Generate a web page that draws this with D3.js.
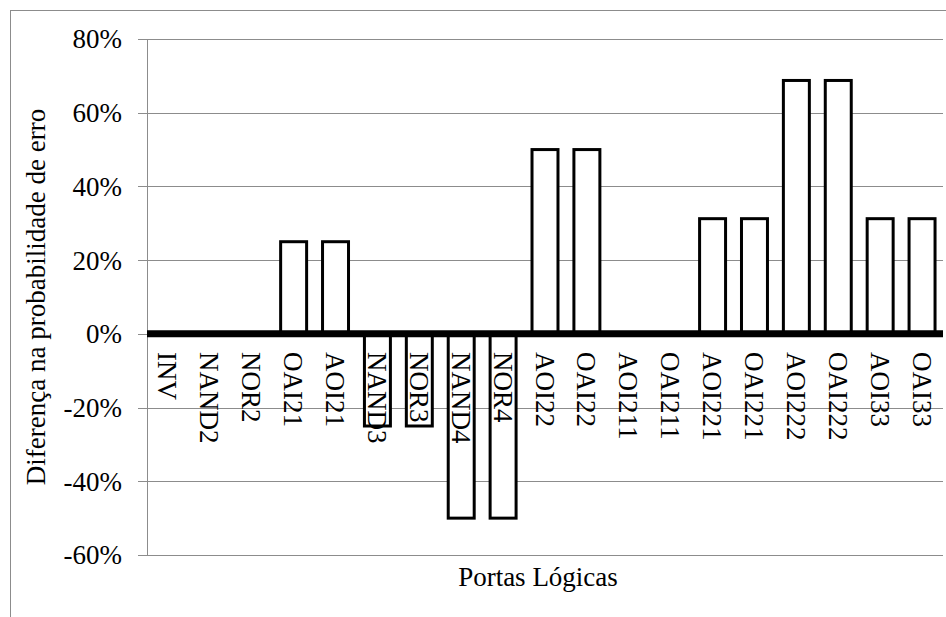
<!DOCTYPE html>
<html><head><meta charset="utf-8">
<script src="https://cdn.jsdelivr.net/npm/d3@7"></script>
<style>body{margin:0;background:#fff}svg{display:block}</style>
</head><body>
<svg id="c" width="946" height="617"></svg>
<script>
const categories = ["INV","NAND2","NOR2","OAI21","AOI21","NAND3","NOR3","NAND4","NOR4","AOI22","OAI22","AOI211","OAI211","AOI221","OAI221","AOI222","OAI222","AOI33","OAI33"];
const values = [0,0,0,0.25,0.25,-0.25,-0.25,-0.5,-0.5,0.5,0.5,0,0,0.3125,0.3125,0.6875,0.6875,0.3125,0.3125];
const yTicks = [-0.6,-0.4,-0.2,0,0.2,0.4,0.6,0.8];
const yTitle = "Diferença na probabilidade de erro";
const xTitle = "Portas Lógicas";

const svg = d3.select("#c");
const font = "Liberation Serif, Times New Roman, serif";
const fs = 27;
const L = 147, R = 943, T = 39, B = 555;
const x = d3.scaleBand().domain(categories).range([L, R]).paddingInner(0.38).paddingOuter(0.19);
const y = d3.scaleLinear().domain([-0.6, 0.8]).range([B, T]);
const pct = d => (Math.round(d * 100)) + "%";

// outer frame
svg.append("rect").attr("x",10.5).attr("y",10.5).attr("width",960).attr("height",640)
  .attr("fill","none").attr("stroke","#8c8c8c").attr("stroke-width",1);

// gridlines
svg.append("g").selectAll("line").data(yTicks).join("line")
  .attr("x1",L-9).attr("x2",R).attr("y1",d=>Math.round(y(d))+0.5).attr("y2",d=>Math.round(y(d))+0.5)
  .attr("stroke","#8c8c8c").attr("stroke-width",1);
// y axis line
svg.append("line").attr("x1",L+0.5).attr("x2",L+0.5).attr("y1",T).attr("y2",B)
  .attr("stroke","#8c8c8c");

// y tick labels
svg.append("g").selectAll("text").data(yTicks).join("text")
  .attr("x",122).attr("y",d=>y(d)).attr("dy","0.35em").attr("text-anchor","end")
  .style("font-family",font).style("font-size",fs+"px").attr("fill","#000")
  .text(pct);

// bars
svg.append("g").selectAll("rect").data(categories.map((c,i)=>({c,v:values[i]})).filter(d=>d.v!==0)).join("rect")
  .attr("x",d=>x(d.c)).attr("width",x.bandwidth())
  .attr("y",d=>Math.min(y(d.v),y(0))).attr("height",d=>Math.abs(y(d.v)-y(0)))
  .attr("fill","#fff").attr("stroke","#000").attr("stroke-width",3);

// zero line
svg.append("line").attr("x1",L).attr("x2",R).attr("y1",y(0)).attr("y2",y(0))
  .attr("stroke","#000").attr("stroke-width",7);

// category labels
svg.append("g").selectAll("text").data(categories).join("text")
  .attr("transform",d=>`translate(${x(d)+x.bandwidth()/2},352) rotate(90)`)
  .attr("dy","0.35em").attr("text-anchor","start")
  .style("font-family",font).style("font-size",fs+"px").attr("fill","#000")
  .text(d=>d);

// axis titles
svg.append("text").attr("transform",`translate(45,${(T+B)/2}) rotate(-90)`)
  .attr("text-anchor","middle").style("font-family",font).style("font-size",fs+"px").text(yTitle);
svg.append("text").attr("x",538).attr("y",586).attr("text-anchor","middle")
  .style("font-family",font).style("font-size",fs+"px").text(xTitle);
</script>
</body></html>
